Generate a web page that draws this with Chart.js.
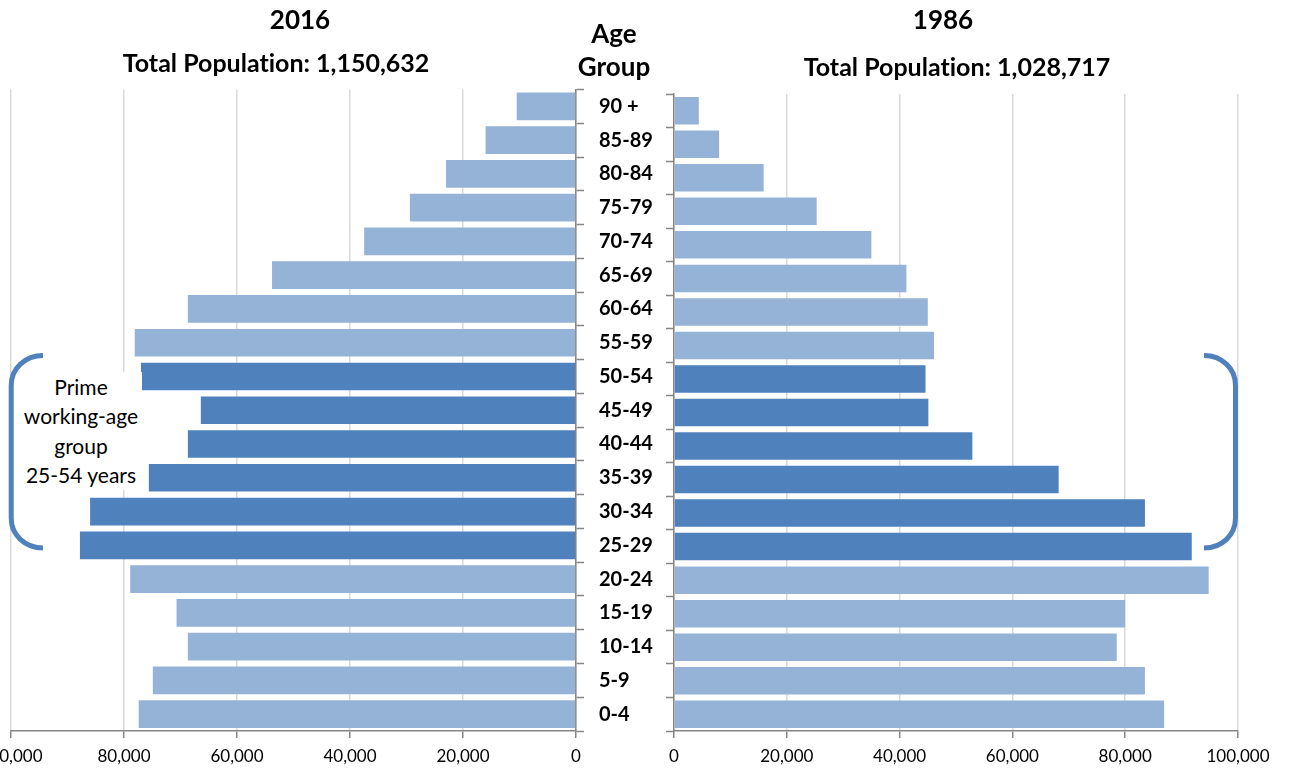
<!DOCTYPE html>
<html>
<head>
<meta charset="utf-8">
<script src="https://cdn.jsdelivr.net/npm/chart.js@4/dist/chart.umd.min.js"></script>
<style>
  html, body { margin: 0; padding: 0; background: #fff; }
  body { position: relative; width: 1291px; height: 775px; overflow: hidden; font-family: Lato, "Open Sans", sans-serif;
         font-variant-ligatures: none; }
  .wrap { position: absolute; top: 0; height: 775px; }
  .t { position: absolute; color: #000; white-space: nowrap; transform: translate(-50%, -50%); font-weight: bold; }
  #note { position: absolute; left: 20px; top: 372px; width: 122px; background: #fff; text-align: center;
          font-size: 21px; line-height: 29.4px; color: #000; }
  svg { position: absolute; left: 0; top: 0; }
</style>
</head>
<body>
<div class="wrap" style="left:-60px;width:740px"><canvas id="c2016" width="740" height="775"></canvas></div>
<div class="wrap" style="left:600px;width:691px"><canvas id="c1986" width="691" height="775"></canvas></div>

<div class="t" style="left:300px;top:19px;font-size:26px">2016</div>
<div class="t" style="left:276px;top:62px;font-size:25px">Total Population: 1,150,632</div>
<div class="t" style="left:614px;top:33px;font-size:26px">Age</div>
<div class="t" style="left:614px;top:66px;font-size:26px">Group</div>
<div class="t" style="left:943px;top:19px;font-size:26px">1986</div>
<div class="t" style="left:957px;top:66px;font-size:25px">Total Population: 1,028,717</div>

<div id="note">Prime<br>working-age<br>group<br>25-54 years</div>

<svg width="1291" height="775">
  <path d="M43 355.5 C25 355.5 11.2 368.5 11.2 385.5 L11.2 518 C11.2 535 25 548 43 548"
        fill="none" stroke="#4F81BD" stroke-width="5"/>
  <path d="M1204 355.5 C1222 355.5 1235.5 368.5 1235.5 385.5 L1235.5 518 C1235.5 535 1222 548 1204 548"
        fill="none" stroke="#4F81BD" stroke-width="5"/>
</svg>

<script>
// Age groups, oldest at the top
const ageGroups = ['90 +', '85-89', '80-84', '75-79', '70-74', '65-69', '60-64', '55-59', '50-54',
                   '45-49', '40-44', '35-39', '30-34', '25-29', '20-24', '15-19', '10-14', '5-9', '0-4'];

// Population by age group
const pop2016 = [10500, 16000, 23000, 29400, 37500, 53800, 68700, 78100, 77000,
                 66400, 68700, 75600, 86000, 87800, 78900, 70700, 68700, 74900, 77400];
const pop1986 = [4400, 8000, 15900, 25300, 35000, 41200, 45000, 46100, 44600,
                 45100, 52900, 68200, 83500, 91800, 94800, 80000, 78500, 83500, 86900];

// Prime working-age groups (25-54) are shown darker
const primeGroups = ['50-54', '45-49', '40-44', '35-39', '30-34', '25-29'];

// Value axis ticks
const axisTicks = [0, 20000, 40000, 60000, 80000, 100000];

const DARK = '#4F81BD';
const LIGHT = '#95B3D7';
const GRID = '#D9D9D9';
const AXIS = '#868686';
const barColors = ageGroups.map(g => primeGroups.includes(g) ? DARK : LIGHT);

const tickFont = { family: 'Lato', size: 17 };
const fmt = v => Number(v).toLocaleString('en-US');

function valueAxis(reverse) {
  return {
    type: 'linear',
    position: 'bottom',
    reverse: reverse,
    min: axisTicks[0],
    max: axisTicks[axisTicks.length - 1],
    afterBuildTicks: s => { s.ticks = axisTicks.map(v => ({ value: v })); },
    ticks: { callback: fmt, font: tickFont, color: '#000', padding: 8, maxRotation: 0, autoSkip: false },
    grid: { color: GRID, lineWidth: 1.5, tickLength: 7, tickColor: AXIS, tickWidth: 1.5 },
    border: { color: AXIS, width: 1.5 },
    afterFit: s => { s.height = 44; }
  };
}

function dataset(values) {
  return {
    data: values,
    backgroundColor: barColors,
    borderWidth: 0,
    barPercentage: 0.82,
    categoryPercentage: 1.0
  };
}

const common = {
  responsive: false,
  animation: false,
  indexAxis: 'y',
  plugins: { legend: { display: false }, tooltip: { enabled: false }, title: { display: false } }
};

// 2016: bars grow to the left, age labels on the right of its axis
new Chart(document.getElementById('c2016'), {
  type: 'bar',
  data: { labels: ageGroups, datasets: [dataset(pop2016)] },
  options: Object.assign({}, common, {
    layout: { padding: { left: 71, right: 6, top: 89.5, bottom: 0 } },
    scales: {
      x: valueAxis(true),
      y: {
        type: 'category',
        position: 'right',
        offset: true,
        ticks: { font: { family: 'Lato', size: 20, weight: 'bold' }, color: '#000', crossAlign: 'near', padding: 15 },
        grid: { drawOnChartArea: false, offset: true, tickLength: 8, tickColor: AXIS, tickWidth: 1.5 },
        border: { color: AXIS, width: 1.5 },
        afterFit: s => { s.width = 98; }
      }
    }
  })
});

// 1986: bars grow to the right
new Chart(document.getElementById('c1986'), {
  type: 'bar',
  data: { labels: ageGroups, datasets: [dataset(pop1986)] },
  options: Object.assign({}, common, {
    layout: { padding: { left: 66, right: 53, top: 94, bottom: 0 } },
    scales: {
      x: valueAxis(false),
      y: {
        type: 'category',
        position: 'left',
        offset: true,
        ticks: { display: false },
        grid: { drawOnChartArea: false, offset: true, tickLength: 8, tickColor: AXIS, tickWidth: 1.5 },
        border: { color: AXIS, width: 1.5 },
        afterFit: s => { s.width = 8; }
      }
    }
  })
});
</script>
</body>
</html>
